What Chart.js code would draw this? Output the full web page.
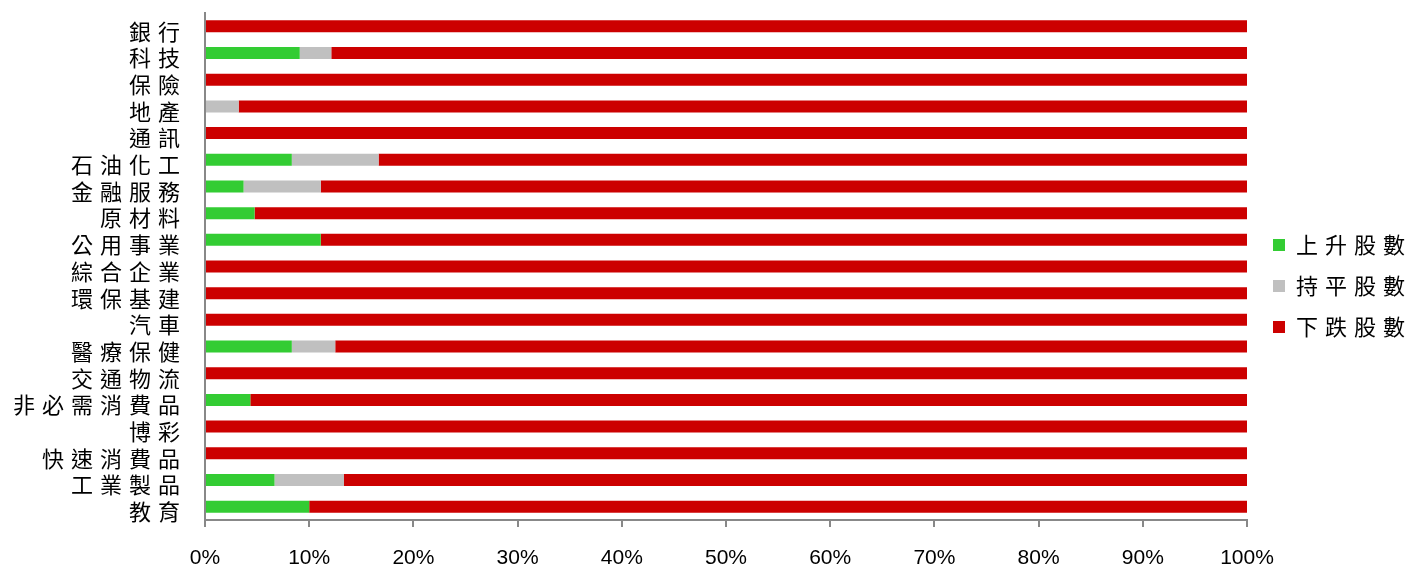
<!DOCTYPE html>
<html><head><meta charset="utf-8">
<script src="https://cdn.jsdelivr.net/npm/chart.js@4/dist/chart.umd.min.js"></script>
<style>html,body{margin:0;padding:0;background:#fff}#wrap{width:1407px;height:567px}</style>
</head><body><div id="wrap"><canvas id="c" width="1407" height="567"></canvas></div>
<script>
const categories = ["銀行","科技","保險","地產","通訊","石油化工","金融服務","原材料","公用事業","綜合企業","環保基建","汽車","醫療保健","交通物流","非必需消費品","博彩","快速消費品","工業製品","教育"];
const seriesNames = ["上升股數","持平股數","下跌股數"];
const upPct   = [0, 9.09, 0, 0,   0, 8.33, 3.70, 4.76, 11.11, 0, 0, 0, 8.33, 0, 4.35, 0, 0, 6.67, 10.0];
const flatPct = [0, 3.03, 0, 3.23,0, 8.33, 7.41, 0,    0,    0, 0, 0, 4.17, 0, 0,    0, 0, 6.67, 0];
const downPct = categories.map((c,i)=> +(100 - upPct[i] - flatPct[i]).toFixed(2));
const xTicks = [0,10,20,30,40,50,60,70,80,90,100];
const colors = ["#33CC33","#C0C0C0","#CC0000"];

const spacingPlugin = {
  id:'spacing',
  beforeLayout(chart){
    const l = chart.legend;
    if (l && !l._sp){
      const of = l.fit.bind(l);
      l.fit = function(){ const ctx=chart.ctx; ctx.save(); ctx.letterSpacing='7px'; of(); ctx.restore(); this.width = 160; };
      const od = l.draw.bind(l);
      l.draw = function(){ const ctx=chart.ctx; ctx.save(); ctx.letterSpacing='7px'; ctx.translate(7,-4); od(); ctx.restore(); };
      l._sp = true;
    }
  },
  afterUpdate(chart){
    const s = chart.scales.y;
    if (s && !s._sp){
      const orig = s.drawLabels.bind(s);
      s.drawLabels = function(a){ const ctx=chart.ctx; ctx.save(); ctx.letterSpacing='7px'; ctx.translate(0,5); orig(a); ctx.restore(); };
      s._sp = true;
    }
  }
};

new Chart(document.getElementById('c'), {
  type:'bar',
  data:{
    labels: categories,
    datasets: [
      {label: seriesNames[0], data: upPct, backgroundColor: colors[0]},
      {label: seriesNames[1], data: flatPct, backgroundColor: colors[1]},
      {label: seriesNames[2], data: downPct, backgroundColor: colors[2]}
    ]
  },
  options:{
    indexAxis:'y',
    responsive:false,
    animation:false,
    devicePixelRatio:1,
    categoryPercentage:0.5,
    barPercentage:0.9,
    layout:{padding:{top:13,bottom:0,left:0,right:0}},
    plugins:{
      legend:{
        position:'right',
        labels:{
          boxWidth:12, boxHeight:12, padding:19,
          color:'#000',
          font:{family:"'Noto Sans CJK TC'", size:22}
        }
      },
      tooltip:{enabled:false}
    },
    scales:{
      x:{
        stacked:true, min:0, max:100,
        afterBuildTicks(s){ s.ticks = xTicks.map(v=>({value:v})); },
        afterFit(s){ s.height = 47; },
        ticks:{callback:v=>v+'%', color:'#000', font:{family:"'Liberation Sans'", size:21}, padding:19, maxRotation:0},
        grid:{drawOnChartArea:false, drawTicks:true, tickLength:7, color:'#888', lineWidth:2},
        border:{color:'#888', width:2}
      },
      y:{
        stacked:true,
        afterFit(s){ s.width = 205; s.paddingTop = 0; s.paddingBottom = 0; },
        ticks:{autoSkip:false, color:'#000', font:{family:"'Noto Sans CJK TC'", size:22}, padding:10},
        grid:{display:false},
        border:{color:'#888', width:2}
      }
    }
  },
  plugins:[spacingPlugin]
});
</script></body></html>
